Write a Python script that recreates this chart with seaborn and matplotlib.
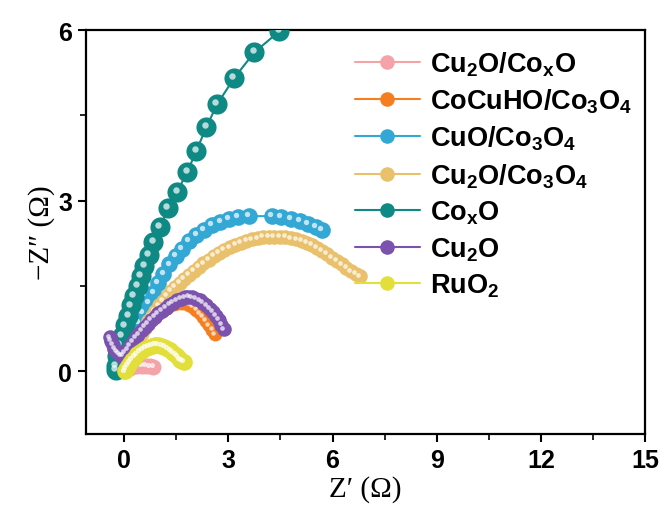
import matplotlib
matplotlib.use("Agg")
import matplotlib.pyplot as plt
import matplotlib.transforms as mtransforms
import seaborn as sns
import pandas as pd

# -- data (Nyquist plots)
labels = ["Cu$_2$O/Co$_x$O", "CoCuHO/Co$_3$O$_4$", "CuO/Co$_3$O$_4$",
          "Cu$_2$O/Co$_3$O$_4$", "Co$_x$O", "Cu$_2$O", "RuO$_2$"]
colors = ["#F4A3A8", "#F57F20", "#34A8D4", "#E9C16C", "#0E8984", "#7B52AE", "#E2DE3A"]

cu2o_coxo_x = [0.00, 0.10, 0.22, 0.36, 0.50, 0.63, 0.75, 0.84]
cu2o_coxo_y = [0.00, 0.04, 0.07, 0.09, 0.10, 0.10, 0.09, 0.08]

cocuho_x = [0.00, 0.05, 0.10, 0.16, 0.22, 0.29, 0.36, 0.44, 0.52, 0.61, 0.70,
            0.80, 0.90, 1.00, 1.11, 1.22, 1.33, 1.44, 1.55, 1.66, 1.77, 1.88,
            1.98, 2.08, 2.18, 2.27, 2.36, 2.45, 2.54, 2.62]
cocuho_y = [0.02, 0.10, 0.18, 0.27, 0.36, 0.45, 0.53, 0.61, 0.69, 0.77, 0.84,
            0.91, 0.97, 1.03, 1.08, 1.12, 1.16, 1.19, 1.21, 1.21, 1.20, 1.17,
            1.13, 1.08, 1.02, 0.96, 0.89, 0.81, 0.73, 0.65]

cuo_x = [0.05, 0.12, 0.20, 0.30, 0.42, 0.55, 0.70, 0.84, 0.98, 1.13, 1.30, 1.48,
         1.67, 1.87, 2.08, 2.30, 2.53, 2.77, 3.02, 3.28, 3.58,
         4.25, 4.52, 4.79, 5.05, 5.30, 5.52, 5.70]
cuo_y = [0.05, 0.25, 0.45, 0.65, 0.85, 1.03, 1.20, 1.38, 1.55, 1.72, 1.88, 2.03,
         2.16, 2.29, 2.40, 2.49, 2.57, 2.63, 2.68, 2.71, 2.73,
         2.73, 2.71, 2.68, 2.64, 2.59, 2.54, 2.49]

cu2o_co3o4_x = [0.10, 0.15, 0.21, 0.28, 0.35, 0.43, 0.51, 0.60, 0.69, 0.79, 0.89,
                1.00, 1.11, 1.23, 1.35, 1.47, 1.60, 1.73, 1.86, 2.00, 2.14, 2.28,
                2.43, 2.58, 2.73, 2.88, 3.04, 3.20, 3.36, 3.52, 3.68, 3.84, 4.00,
                4.16, 4.32, 4.48, 4.64, 4.80, 4.96, 5.11, 5.26, 5.41, 5.56, 5.70,
                5.84, 5.98, 6.12, 6.26, 6.40, 6.54, 6.67, 6.78]
cu2o_co3o4_y = [0.05, 0.14, 0.24, 0.35, 0.46, 0.57, 0.67, 0.77, 0.88, 0.97, 1.06,
                1.16, 1.24, 1.33, 1.41, 1.48, 1.56, 1.63, 1.70, 1.77, 1.84, 1.90,
                1.96, 2.03, 2.08, 2.13, 2.18, 2.22, 2.26, 2.29, 2.32, 2.34, 2.36,
                2.37, 2.37, 2.37, 2.36, 2.34, 2.32, 2.29, 2.26, 2.22, 2.17, 2.12,
                2.06, 2.00, 1.94, 1.88, 1.82, 1.76, 1.71, 1.67]

coxo_x = [-0.25, -0.23, -0.20, -0.14, -0.06, 0.03, 0.12, 0.20, 0.29, 0.40, 0.49,
          0.58, 0.72, 0.84, 1.04, 1.27, 1.53, 1.82, 2.08, 2.37, 2.68, 3.17, 3.75,
          4.47, 5.10]
coxo_y = [0.03, 0.10, 0.28, 0.46, 0.63, 0.81, 0.98, 1.16, 1.33, 1.51, 1.68,
          1.86, 2.05, 2.28, 2.54, 2.88, 3.16, 3.51, 3.88, 4.30, 4.70, 5.16, 5.61,
          5.98, 6.35]

cu2o_x = [-0.42, -0.38, -0.33, -0.28, -0.22, -0.16, -0.10, -0.04, 0.03, 0.10,
          0.17, 0.25, 0.33, 0.41, 0.50, 0.59, 0.68, 0.78, 0.88, 0.98, 1.08, 1.19,
          1.30, 1.41, 1.52, 1.63, 1.74, 1.85, 1.96, 2.07, 2.17, 2.27, 2.37, 2.46,
          2.55, 2.64, 2.72, 2.80, 2.88]
cu2o_y = [0.60, 0.53, 0.46, 0.40, 0.35, 0.31, 0.28, 0.28, 0.32, 0.38, 0.45,
          0.52, 0.59, 0.65, 0.72, 0.78, 0.84, 0.90, 0.96, 1.02, 1.07, 1.12, 1.17,
          1.21, 1.25, 1.28, 1.30, 1.31, 1.30, 1.28, 1.25, 1.21, 1.16, 1.10, 1.04,
          0.97, 0.90, 0.82, 0.74]

ruo2_x = [0.02, 0.06, 0.11, 0.17, 0.23, 0.30, 0.37, 0.45, 0.53, 0.62, 0.71,
          0.80, 0.89, 0.98, 1.07, 1.16, 1.25, 1.33, 1.41, 1.48, 1.55, 1.61,
          1.67, 1.72]
ruo2_y = [0.00, 0.05, 0.10, 0.15, 0.20, 0.25, 0.30, 0.34, 0.38, 0.41, 0.43,
          0.45, 0.46, 0.46, 0.45, 0.43, 0.40, 0.37, 0.33, 0.29, 0.25, 0.21,
          0.18, 0.17]

series_x = [cu2o_coxo_x, cocuho_x, cuo_x, cu2o_co3o4_x, coxo_x, cu2o_x, ruo2_x]
series_y = [cu2o_coxo_y, cocuho_y, cuo_y, cu2o_co3o4_y, coxo_y, cu2o_y, ruo2_y]
msizes = [11.5, 10, 12, 10.5, 14.5, 10.5, 12]

# -- style
sns.set_style("ticks")
plt.rcParams["font.family"] = ["Liberation Sans", "DejaVu Sans"]
plt.rcParams["mathtext.fontset"] = "custom"
plt.rcParams["mathtext.rm"] = "Liberation Sans:bold"
plt.rcParams["mathtext.it"] = "Liberation Sans:bold"
plt.rcParams["mathtext.bf"] = "Liberation Sans:bold"
plt.rcParams["mathtext.default"] = "rm"
plt.rcParams["text.color"] = "black"
plt.rcParams["xtick.color"] = "black"
plt.rcParams["ytick.color"] = "black"
plt.rcParams["axes.labelcolor"] = "black"

fig = plt.figure(figsize=(6.64, 5.10), dpi=100)
ax = fig.add_axes([0.1295, 0.147, 0.842, 0.792])

for i, lab in enumerate(labels):
    df = pd.DataFrame({"x": series_x[i], "y": series_y[i]})
    sns.lineplot(data=df, x="x", y="y", sort=False, ax=ax, color=colors[i],
                 marker="o", markersize=msizes[i], markeredgewidth=0,
                 linewidth=1.5, label=lab, zorder=2 + i)
    # specular highlight on each sphere
    hl = mtransforms.offset_copy(ax.transData, fig=fig, x=-1.3, y=1.3, units="points")
    ax.plot(series_x[i], series_y[i], linestyle="none", marker="o",
            markersize=msizes[i] * 0.32, markeredgewidth=0, color="white",
            alpha=0.7, transform=hl, zorder=2 + i)

ax.set_xlim(-1.1, 15)
ax.set_ylim(-1.1, 6)
ax.set_xticks([0, 3, 6, 9, 12, 15])
ax.set_yticks([0, 3, 6])
ax.set_xticks([1.5, 4.5, 7.5, 10.5, 13.5], minor=True)
ax.set_yticks([1.5, 4.5], minor=True)
ax.tick_params(which="major", direction="out", length=6, width=1.5,
               labelsize=18, pad=4)
ax.tick_params(which="minor", direction="out", length=4, width=1.2)
for t in ax.get_xticklabels() + ax.get_yticklabels():
    t.set_fontweight("bold")
for s in ax.spines.values():
    s.set_linewidth(1.6)
    s.set_color("black")

ax.set_xlabel("Z\u2032 (\u03a9)", family=["Liberation Serif", "DejaVu Serif"],
              fontsize=21, labelpad=2)
ax.set_ylabel("\u2212Z\u2033 (\u03a9)", family=["Liberation Serif", "DejaVu Serif"],
              fontsize=21, labelpad=2)

leg = ax.legend(loc="upper left", bbox_to_anchor=(0.481, 0.953), frameon=False,
                prop={"weight": "bold", "size": 19.5},
                handlelength=2.4, handletextpad=0.36, labelspacing=0.33,
                borderpad=0, borderaxespad=0)
for h in leg.legend_handles:
    h.set_markersize(10.5)
    h.set_linewidth(1.5)

plt.savefig("out.png", dpi=100)
